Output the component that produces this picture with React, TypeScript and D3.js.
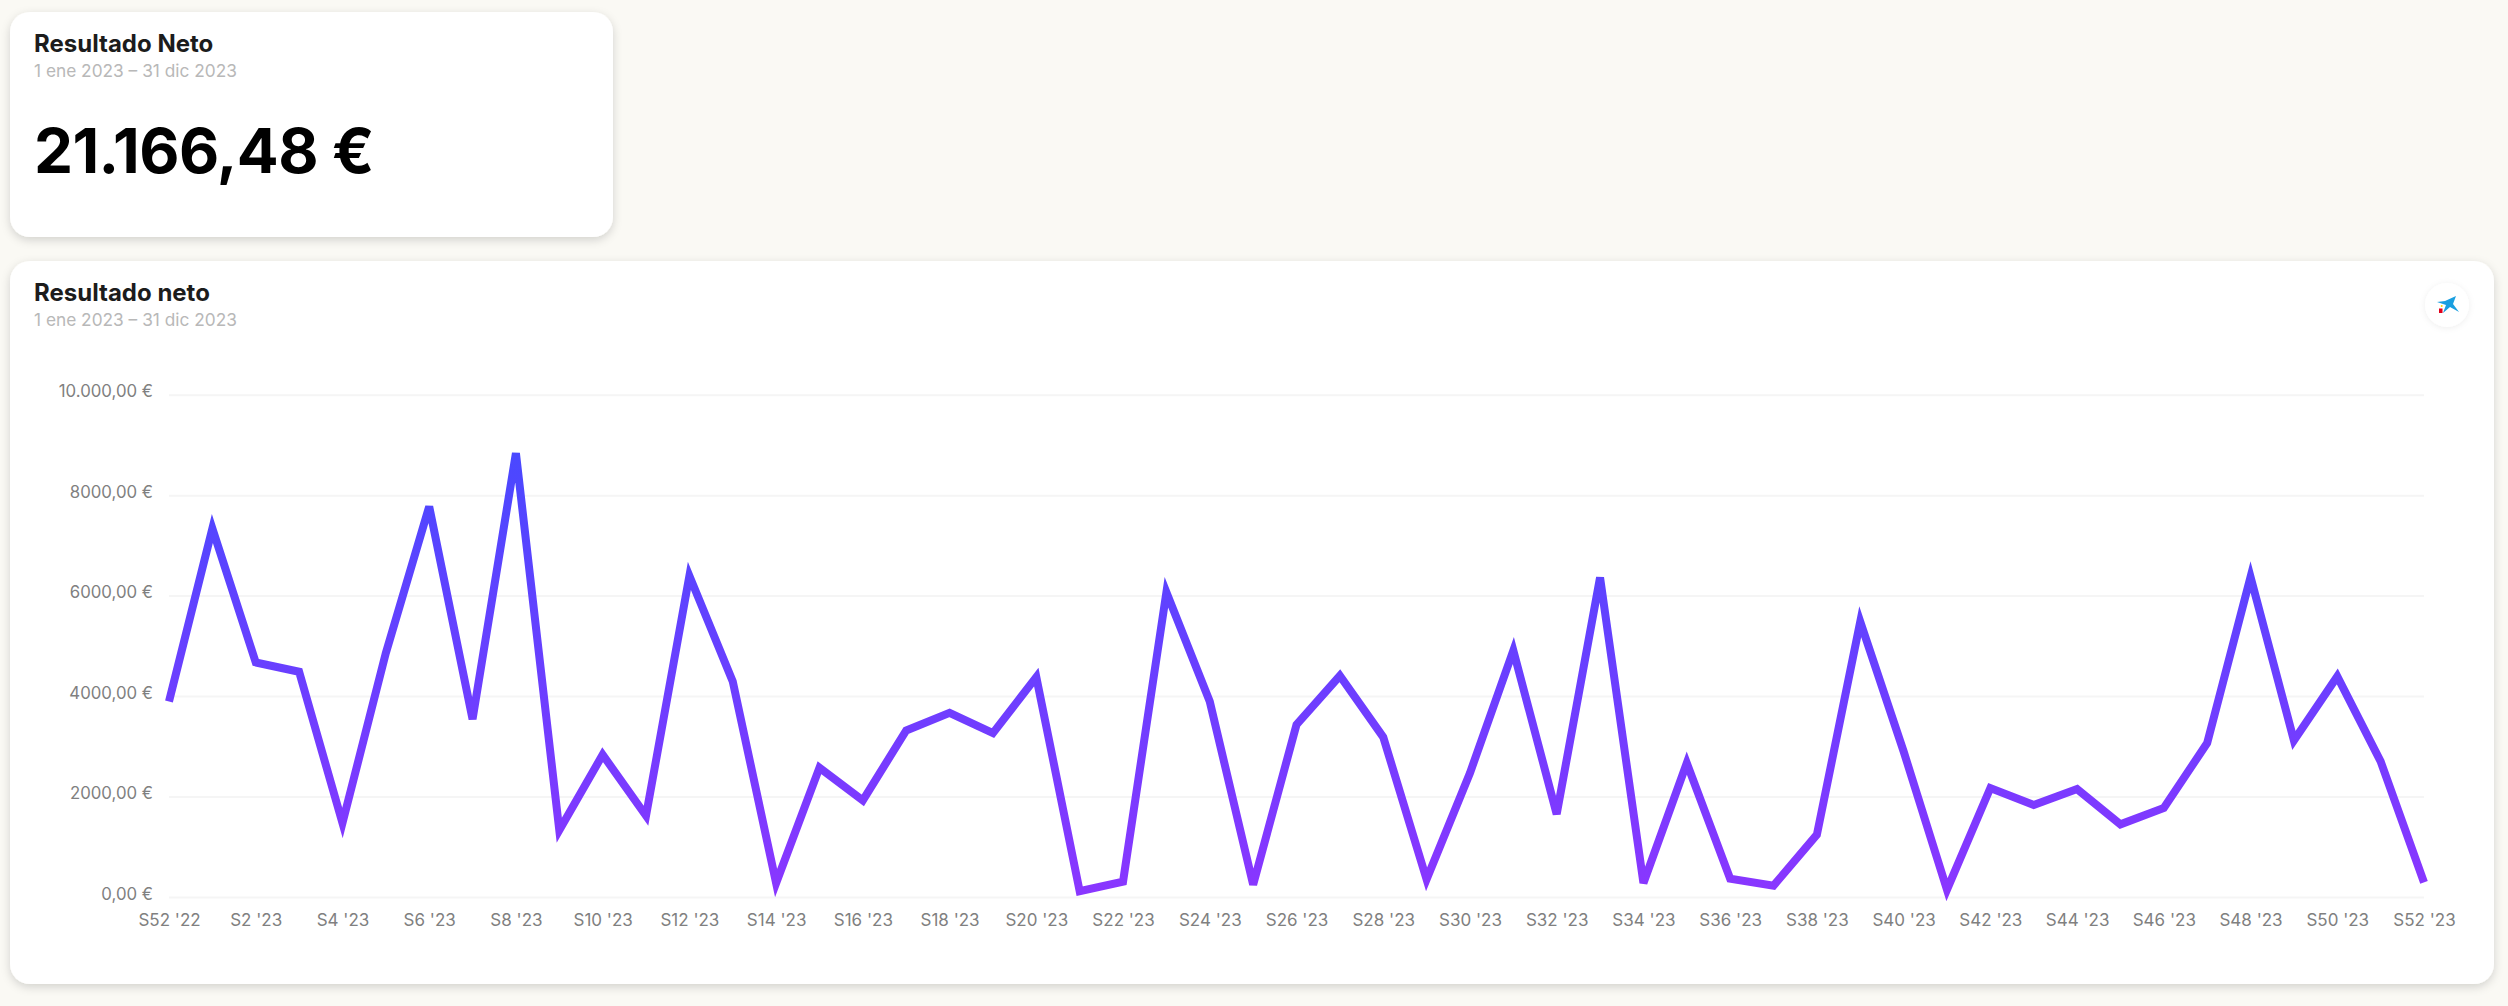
import { useEffect, useRef } from "react";
import * as d3 from "d3";

const weeks = [
  "S52 '22", "S1 '23", "S2 '23", "S3 '23", "S4 '23", "S5 '23", "S6 '23", "S7 '23", "S8 '23", "S9 '23",
  "S10 '23", "S11 '23", "S12 '23", "S13 '23", "S14 '23", "S15 '23", "S16 '23", "S17 '23", "S18 '23", "S19 '23",
  "S20 '23", "S21 '23", "S22 '23", "S23 '23", "S24 '23", "S25 '23", "S26 '23", "S27 '23", "S28 '23", "S29 '23",
  "S30 '23", "S31 '23", "S32 '23", "S33 '23", "S34 '23", "S35 '23", "S36 '23", "S37 '23", "S38 '23", "S39 '23",
  "S40 '23", "S41 '23", "S42 '23", "S43 '23", "S44 '23", "S45 '23", "S46 '23", "S47 '23", "S48 '23", "S49 '23",
  "S50 '23", "S51 '23", "S52 '23",
];

const netResult = [
  3893, 7336, 4670, 4484, 1473, 4855, 7774, 3542, 8835, 1330,
  2832, 1618, 6394, 4291, 279, 2574, 1924, 3316, 3668, 3263,
  4378, 115, 305, 6069, 3893, 245, 3430, 4404, 3184, 351,
  2468, 4908, 1650, 6361, 278, 2667, 365, 225, 1240, 5479,
  2899, 146, 2169, 1831, 2149, 1446, 1771, 3065, 6370, 3118,
  4391, 2700, 292,
];

const yTicks = [0, 2000, 4000, 6000, 8000, 10000];
const yTickLabels = ["0,00 €", "2000,00 €", "4000,00 €", "6000,00 €", "8000,00 €", "10.000,00 €"];

const period = "1 ene 2023 – 31 dic 2023";
const fontFamily = "Inter, sans-serif";

export default function App() {
  const svgRef = useRef<SVGSVGElement>(null);

  useEffect(() => {
    if (!svgRef.current) return;
    const svg = d3.select(svgRef.current);
    svg.selectAll("*").remove();

    const defs = svg.append("defs");
    const shadow = defs.append("filter").attr("id", "card-shadow")
      .attr("x", "-5%").attr("y", "-5%").attr("width", "110%").attr("height", "115%");
    shadow.append("feDropShadow").attr("dx", 0).attr("dy", 3).attr("stdDeviation", 5)
      .attr("flood-color", "#000").attr("flood-opacity", 0.16);
    const softShadow = defs.append("filter").attr("id", "badge-shadow")
      .attr("x", "-40%").attr("y", "-40%").attr("width", "180%").attr("height", "180%");
    softShadow.append("feDropShadow").attr("dx", 0).attr("dy", 1).attr("stdDeviation", 3)
      .attr("flood-color", "#000").attr("flood-opacity", 0.07);

    // Cards
    const card = (x: number, y: number, w: number, h: number) =>
      svg.append("rect").attr("x", x).attr("y", y).attr("width", w).attr("height", h)
        .attr("rx", 20).attr("fill", "#fff").attr("filter", "url(#card-shadow)");
    card(10, 12, 603, 225);
    card(10, 261, 2484, 723);

    const title = (x: number, y: number, text: string) =>
      svg.append("text").attr("x", x).attr("y", y).attr("font-family", fontFamily)
        .attr("font-size", 24).attr("font-weight", 700).attr("fill", "#1c1c1c").text(text);
    const subtitle = (x: number, y: number) =>
      svg.append("text").attr("x", x).attr("y", y).attr("font-family", fontFamily)
        .attr("font-size", 17.3).attr("fill", "#b8b8b8").text(period);

    title(34, 52, "Resultado Neto");
    subtitle(34, 77);
    svg.append("text").attr("x", 34).attr("y", 173).attr("font-family", fontFamily)
      .attr("font-size", 62).attr("font-weight", 700).attr("letter-spacing", -0.6)
      .attr("fill", "#000").text("21.166,48 €");

    title(34, 301, "Resultado neto");
    subtitle(34, 326);

    // Scales
    const x = d3.scalePoint<string>().domain(weeks).range([169, 2424]);
    const y = d3.scaleLinear().domain([0, 10000]).range([897, 394.7]);

    // Gridlines and y labels
    const yAxis = d3.axisLeft(y)
      .tickValues(yTicks)
      .tickSize(0)
      .tickPadding(16)
      .tickFormat((_, i) => yTickLabels[i]);
    const yG = svg.append("g").attr("transform", "translate(169,0)").call(yAxis);
    yG.select(".domain").remove();
    yG.selectAll("text")
      .attr("font-family", fontFamily).attr("font-size", 16.8).attr("fill", "#808080").attr("dy", "0.12em");
    yG.selectAll(".tick").append("line")
      .attr("x1", 0).attr("x2", 2255)
      .attr("stroke", "#f5f5f5").attr("stroke-width", 2);

    // X labels, every second week
    const xAxis = d3.axisBottom(x)
      .tickValues(weeks.filter((_, i) => i % 2 === 0))
      .tickSize(0)
      .tickPadding(17);
    const xG = svg.append("g").attr("transform", "translate(0,897)").call(xAxis);
    xG.select(".domain").remove();
    xG.selectAll("text")
      .attr("font-family", fontFamily).attr("font-size", 17).attr("fill", "#808080");

    // Line with vertical gradient
    const gradient = defs.append("linearGradient").attr("id", "line-gradient")
      .attr("gradientUnits", "userSpaceOnUse")
      .attr("x1", 0).attr("x2", 0).attr("y1", y(8835)).attr("y2", y(0));
    gradient.append("stop").attr("offset", "0%").attr("stop-color", "#4a48ff");
    gradient.append("stop").attr("offset", "100%").attr("stop-color", "#8a36ff");

    const line = d3.line<number>()
      .x((_, i) => x(weeks[i]) as number)
      .y((d) => y(d));
    svg.append("path")
      .attr("d", line(netResult))
      .attr("fill", "none")
      .attr("stroke", "url(#line-gradient)")
      .attr("stroke-width", 8);

    // Bank badge
    const badge = svg.append("g").attr("transform", "translate(2447,305)");
    badge.append("circle").attr("r", 22).attr("fill", "#fff").attr("filter", "url(#badge-shadow)");
    badge.append("path")
      .attr("d", "M-10,-3 L-2,-4 L9,-9 L6,-1 L12,7 L3,2 L-4,8 L-1,0 Z")
      .attr("fill", "#1a9fe0");
    badge.append("rect").attr("x", -8).attr("y", 3.5).attr("width", 3.5).attr("height", 4.5).attr("fill", "#e2001a");
    badge.append("circle").attr("cx", -5.3).attr("cy", 1).attr("r", 1).attr("fill", "#ffd500");
  }, []);

  return (
    <svg
      ref={svgRef}
      width={2508}
      height={1006}
      viewBox="0 0 2508 1006"
      style={{ position: "absolute", left: 0, top: 0, display: "block", background: "#faf9f4" }}
    />
  );
}
